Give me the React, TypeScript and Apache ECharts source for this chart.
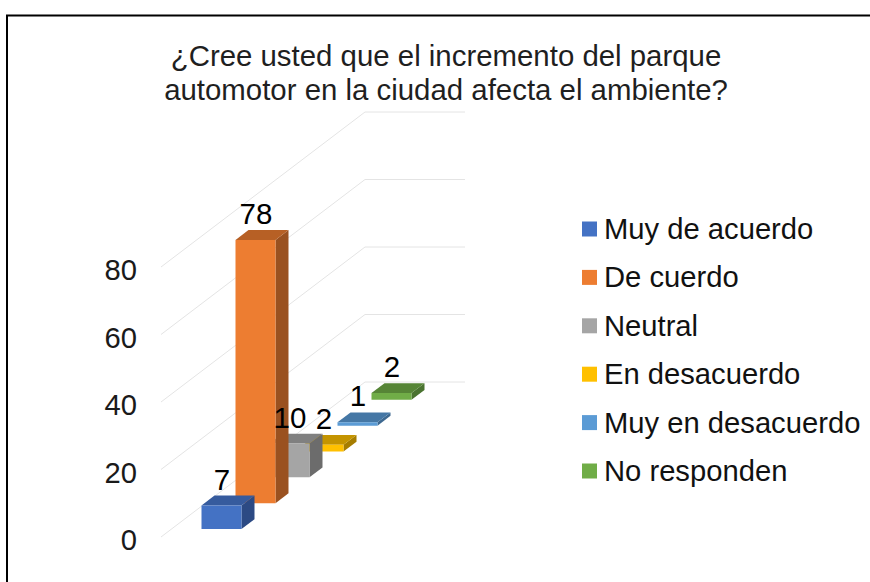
import React, { useEffect, useRef } from "react";
import * as echarts from "echarts";

const titleText = "¿Cree usted que el incremento del parque\nautomotor en la ciudad afecta el ambiente?";
const categories = ["Muy de acuerdo", "De cuerdo", "Neutral", "En desacuerdo", "Muy en desacuerdo", "No responden"];
const values = [7, 78, 10, 2, 1, 2];
const gridTicks = [0, 20, 40, 60, 80];
const frontColors = ["#4472C4", "#ED7D31", "#A5A5A5", "#FFC000", "#5B9BD5", "#70AD47"];
const topColors = ["#365B9E", "#B76025", "#808080", "#C49400", "#4577A5", "#568536"];
const sideColors = ["#2C4A84", "#9A5120", "#6C6C6C", "#A67D00", "#3D6890", "#4A7330"];

const FONT = "'Liberation Sans', Arial, sans-serif";
const DEPTH_X = 204;
const DEPTH_Y = -155;
const BACK_W = 1;
const BAR_X0 = 0.3;
const BAR_X1 = 0.7;
const BAR_DEPTH = 0.0637;
const BAR_GAP = (1 / categories.length - BAR_DEPTH) / 2;

function project(api: any, xf: number, v: number, t: number): number[] {
  const p = api.coord([xf, v]);
  return [p[0] + DEPTH_X * t, p[1] + DEPTH_Y * t];
}

function barSeries(name: string, i: number) {
  const t0 = i / categories.length + BAR_GAP;
  const t1 = t0 + BAR_DEPTH;
  return {
    type: "custom",
    name,
    coordinateSystem: "cartesian2d",
    z: 10 - i,
    silent: true,
    itemStyle: { color: frontColors[i] },
    encode: { x: 0, y: 1 },
    data: [[0.5, values[i]]],
    renderItem: (_p: any, api: any) => {
      const v = api.value(1);
      const a = project(api, BAR_X0, 0, t0);
      const b = project(api, BAR_X1, 0, t0);
      const c = project(api, BAR_X1, v, t0);
      const d = project(api, BAR_X0, v, t0);
      const e = project(api, BAR_X1, 0, t1);
      const f = project(api, BAR_X1, v, t1);
      const g = project(api, BAR_X0, v, t1);
      return {
        type: "group",
        children: [
          { type: "polygon", shape: { points: [b, e, f, c] }, style: { fill: sideColors[i] } },
          { type: "polygon", shape: { points: [d, c, f, g] }, style: { fill: topColors[i] } },
          { type: "polygon", shape: { points: [a, b, c, d] }, style: { fill: frontColors[i] } },
        ],
      };
    },
  };
}

const gridSeries = {
  type: "custom",
  coordinateSystem: "cartesian2d",
  z: 1,
  silent: true,
  encode: { x: 0, y: 1 },
  data: gridTicks.map((v) => [0, v]),
  renderItem: (_p: any, api: any) => {
    const v = api.value(1);
    return {
      type: "polyline",
      shape: { points: [project(api, 0, v, 0), project(api, 0, v, 1), project(api, BACK_W, v, 1)] },
      style: { fill: "none", stroke: "#E4E4E4", lineWidth: 1 },
    };
  },
};

const labelSeries = {
  type: "custom",
  coordinateSystem: "cartesian2d",
  z: 30,
  silent: true,
  encode: { x: 0, y: 1 },
  data: values.map((v) => [0.5, v]),
  renderItem: (p: any, api: any) => {
    const i = p.dataIndex;
    const v = api.value(1);
    const t0 = i / categories.length + BAR_GAP;
    const front = project(api, 0.5, v, t0);
    const back = project(api, 0.5, v, t0 + BAR_DEPTH);
    return {
      type: "text",
      x: front[0] + 0.5,
      y: back[1] - 16.5,
      style: {
        text: String(v),
        fill: "#000000",
        font: `29.5px ${FONT}`,
        align: "center",
        verticalAlign: "middle",
      },
    };
  },
};

export default function App() {
  const ref = useRef<HTMLDivElement>(null);
  useEffect(() => {
    const chart = echarts.init(ref.current!, undefined, { renderer: "svg" });
    chart.setOption({
      animation: false,
      backgroundColor: "#FFFFFF",
      textStyle: { fontFamily: FONT },
      title: {
        text: titleText,
        left: 441,
        top: 33,
        textAlign: "center",
        textStyle: { fontSize: 29.4, fontWeight: "normal", color: "#1F1F1F", lineHeight: 34, fontFamily: FONT },
      },
      legend: {
        orient: "vertical",
        left: 582,
        top: 214,
        padding: 0,
        itemWidth: 15,
        itemHeight: 15,
        itemGap: 18.4,
        icon: "rect",
        data: categories,
        selectedMode: false,
        textStyle: { fontSize: 29.2, lineHeight: 30, color: "#111111", padding: [0, 0, 0, 2], fontFamily: FONT },
      },
      grid: { left: 161, top: 267, width: 100, height: 270 },
      xAxis: { type: "value", min: 0, max: 1, show: false },
      yAxis: {
        type: "value",
        min: 0,
        max: 80,
        interval: 20,
        axisLine: { show: false },
        axisTick: { show: false },
        splitLine: { show: false },
        axisLabel: {
          margin: 24,
          formatter: "{t|{value}}",
          rich: { t: { fontSize: 29.2, padding: [6, 0, 0, 0], color: "#1A1A1A", fontFamily: FONT } },
        },
      },
      graphic: [
        {
          type: "polyline",
          silent: true,
          z: 100,
          shape: { points: [[7, 582], [7, 15.5], [870, 15.5]] },
          style: { fill: "none", stroke: "#000000", lineWidth: 2 },
        },
      ],
      series: [gridSeries, ...categories.map((c, i) => barSeries(c, i)), labelSeries],
    });
    return () => chart.dispose();
  }, []);
  return <div ref={ref} style={{ position: "fixed", left: 0, top: 0, width: 870, height: 582 }} />;
}
